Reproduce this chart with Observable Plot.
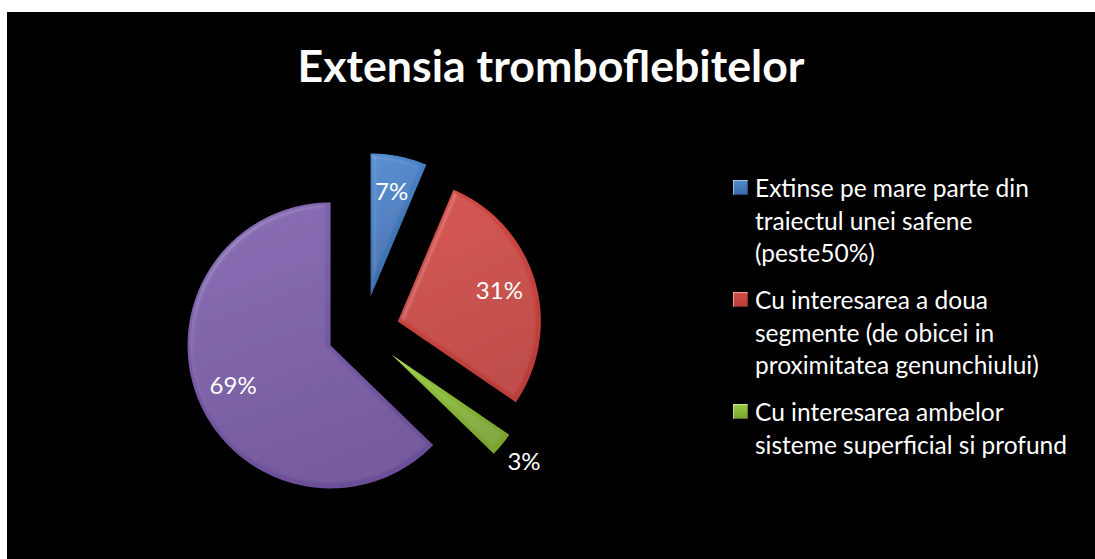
<!DOCTYPE html>
<html><head><meta charset="utf-8">
<script src="https://cdn.jsdelivr.net/npm/d3@7"></script>
<script src="https://cdn.jsdelivr.net/npm/@observablehq/plot@0.6"></script>
<style>
html,body{margin:0;padding:0;background:#fff;}
#frame{position:absolute;left:7px;top:12px;width:1088px;height:547px;background:#000;overflow:hidden;font-family:Lato,"Open Sans",sans-serif;}
#title{position:absolute;left:0;width:1088px;top:28px;text-align:center;color:#fff;font-weight:bold;font-size:44.7px;line-height:50px;white-space:nowrap;}
#chart{position:absolute;left:0;top:0;}
#legend{position:absolute;left:726px;top:160px;color:#fff;font-size:24.5px;line-height:32.5px;}
.item{position:relative;padding-left:22px;margin-bottom:14.5px;white-space:nowrap;}
.sw{position:absolute;left:0;top:8px;width:15px;height:15px;}
</style></head>
<body>
<div id="frame">
  <div id="title"></div>
  <div id="chart"></div>
  <div id="legend"></div>
</div>
<script>
// ---- data ----
const chartTitle = "Extensia tromboflebitelor";
const categories = [
  "Extinse pe mare parte din traiectul unei safene (peste50%)",
  "Cu interesarea a doua segmente (de obicei in proximitatea genunchiului)",
  "Cu interesarea ambelor sisteme superficial si profund",
  ""
];
const values = [7, 31, 3, 69];
const valueLabels = ["7%", "31%", "3%", "69%"];
const legendLines = [
  ["Extinse pe mare parte din", "traiectul unei safene", "(peste50%)"],
  ["Cu interesarea a doua", "segmente (de obicei in", "proximitatea genunchiului)"],
  ["Cu interesarea ambelor", "sisteme superficial si profund"]
];
const colorsTop = ["#4f8bd0", "#d24b45", "#9acb3e", "#8264b0"];
const colorsBottom = ["#3a6aa8", "#bb3e3a", "#7ba32e", "#6c4f98"];

// ---- layout ----
const W = 1088, H = 547, CX = 356, CY = 319, RPX = 143, EXPLODE = 0.25;

document.getElementById("title").textContent = chartTitle;

const rows = categories.map((c, i) => ({key: i, category: c, value: values[i], label: valueLabels[i]}));
const arcs = d3.pie().sort(null).value(d => d.value)(rows);
const total = d3.sum(values);

const pts = [];
const labels = [];
arcs.forEach((p, i) => {
  const mid = (p.startAngle + p.endAngle) / 2;
  const ox = EXPLODE * Math.sin(mid), oy = EXPLODE * Math.cos(mid);
  pts.push({k: i, x: ox, y: oy});
  const n = Math.max(2, Math.ceil((p.endAngle - p.startAngle) / 0.008));
  for (let j = 0; j <= n; j++) {
    const a = p.startAngle + (p.endAngle - p.startAngle) * j / n;
    pts.push({k: i, x: ox + Math.sin(a), y: oy + Math.cos(a)});
  }
  pts.push({k: i, x: ox, y: oy});
  const lr = p.data.value / total < 0.05 ? 1.2 : 0.74;
  labels.push({x: ox + lr * Math.sin(mid), y: oy + lr * Math.cos(mid), text: p.data.label});
});

const sliceMarks = arcs.map((p, i) =>
  Plot.line(pts.filter(d => d.k === i), {x: "x", y: "y", fill: `url(#grad${i})`, stroke: "none", curve: "linear"})
);

const svg = Plot.plot({
  width: W, height: H, margin: 0,
  x: {domain: [-CX / RPX, (W - CX) / RPX], axis: null},
  y: {domain: [-(H - CY) / RPX, CY / RPX], axis: null},
  style: {background: "transparent", overflow: "visible"},
  marks: [
    ...sliceMarks,
    Plot.text(labels, {x: "x", y: "y", text: "text", fill: "white", fontSize: 24, fontFamily: "Lato, 'Open Sans', sans-serif"})
  ]
});

const defs = d3.select(svg).insert("defs", ":first-child");
colorsTop.forEach((c, i) => {
  const g = defs.append("linearGradient").attr("id", `grad${i}`).attr("x1", 0).attr("y1", 0).attr("x2", 0.3).attr("y2", 1);
  g.append("stop").attr("offset", "0%").attr("stop-color", c);
  g.append("stop").attr("offset", "100%").attr("stop-color", colorsBottom[i]);
});
const f = defs.append("filter").attr("id", "bevel").attr("x", "-5%").attr("y", "-5%").attr("width", "110%").attr("height", "110%");
f.append("feGaussianBlur").attr("in", "SourceAlpha").attr("stdDeviation", 2.5).attr("result", "blur");
const sp = f.append("feSpecularLighting").attr("in", "blur").attr("surfaceScale", 2.5).attr("specularConstant", 0.35)
  .attr("specularExponent", 30).attr("lighting-color", "#ffffff").attr("result", "spec");
sp.append("feDistantLight").attr("azimuth", 225).attr("elevation", 55);
f.append("feComposite").attr("in", "spec").attr("in2", "SourceAlpha").attr("operator", "in").attr("result", "specIn");
f.append("feComposite").attr("in", "SourceGraphic").attr("in2", "specIn").attr("operator", "arithmetic")
  .attr("k1", 0).attr("k2", 1).attr("k3", 0.35).attr("k4", 0);
d3.select(svg).selectAll("g[aria-label='line'] path").attr("filter", "url(#bevel)");

document.getElementById("chart").appendChild(svg);

const legend = document.getElementById("legend");
legendLines.forEach((lines, i) => {
  const item = document.createElement("div");
  item.className = "item";
  const sw = document.createElement("div");
  sw.className = "sw";
  sw.style.background = `linear-gradient(180deg, ${colorsTop[i]}, ${colorsBottom[i]})`;
  sw.style.boxShadow = "inset 1px 1px 1px rgba(255,255,255,0.5), inset -1px -1px 1px rgba(0,0,0,0.35)";
  item.appendChild(sw);
  lines.forEach(t => {
    const l = document.createElement("div");
    l.textContent = t;
    item.appendChild(l);
  });
  legend.appendChild(item);
});
</script>
</body></html>
